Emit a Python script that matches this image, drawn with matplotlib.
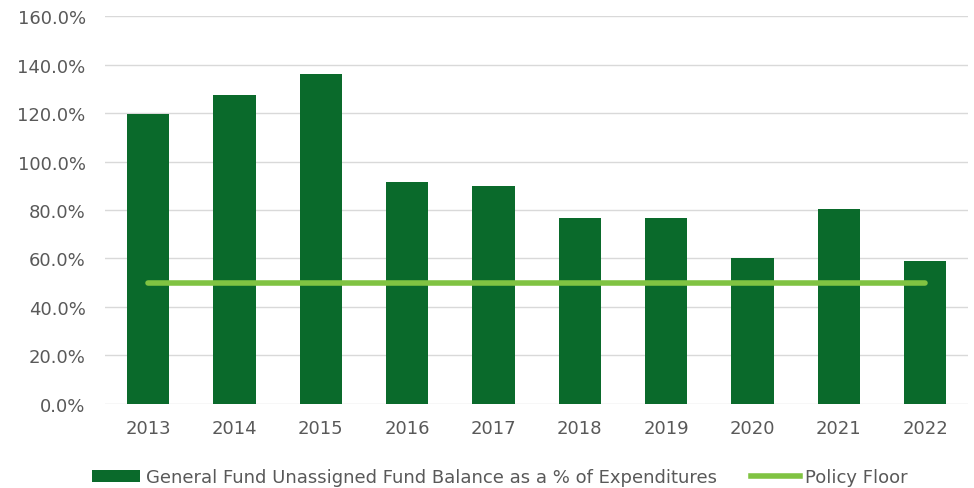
import matplotlib
matplotlib.use("Agg")
import matplotlib.pyplot as plt
from matplotlib.ticker import FuncFormatter
from matplotlib.lines import Line2D
from matplotlib.patches import Patch

years = ["2013", "2014", "2015", "2016", "2017", "2018", "2019", "2020", "2021", "2022"]
fund_balance_pct = [119.5, 127.4, 136.0, 91.7, 90.0, 76.7, 76.7, 60.0, 80.3, 58.8]
policy_floor_pct = [50.0] * len(years)
y_ticks = [0, 20, 40, 60, 80, 100, 120, 140, 160]

bar_color = "#0a6a2b"
line_color = "#80c342"
text_color = "#595959"

plt.rcParams["font.family"] = ["DejaVu Sans"]

fig = plt.figure(figsize=(9.74, 4.89), dpi=100)
ax = fig.add_axes([0.108, 0.172, 0.886, 0.793])

x = list(range(len(years)))
ax.bar(x, fund_balance_pct, width=0.49, color=bar_color, zorder=2)
ax.plot(x, policy_floor_pct, color=line_color, linewidth=4.0, solid_capstyle="round", zorder=3)

ax.set_xlim(-0.5, len(years) - 0.5)
ax.set_ylim(0, 160)
ax.set_yticks(y_ticks)
ax.yaxis.set_major_formatter(FuncFormatter(lambda v, p: f"{v:.1f}%"))
ax.set_xticks(x)
ax.set_xticklabels(years)

ax.grid(axis="y", color="#d9d9d9", linewidth=1.0, zorder=0)
ax.set_axisbelow(True)
for s in ax.spines.values():
    s.set_visible(False)
ax.tick_params(axis="both", length=0, labelsize=13, colors=text_color)
ax.tick_params(axis="y", pad=14)
ax.tick_params(axis="x", pad=11)

handles = [
    Patch(facecolor=bar_color, edgecolor="none"),
    Line2D([0], [0], color=line_color, linewidth=4.0),
]
labels = ["General Fund Unassigned Fund Balance as a % of Expenditures", "Policy Floor"]
fig.legend(handles, labels, loc="center", bbox_to_anchor=(0.513, 0.022), ncol=2,
           frameon=False, fontsize=13, labelcolor=text_color, handlelength=2.7,
           handletextpad=0.3, columnspacing=1.9)

fig.savefig("out.png", dpi=100)
